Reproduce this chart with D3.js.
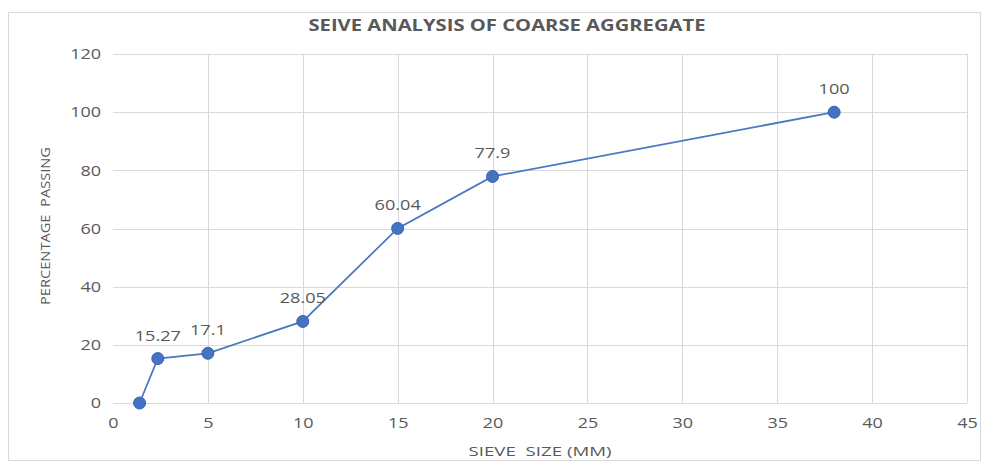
<!DOCTYPE html>
<html><head><meta charset="utf-8">
<script src="https://cdn.jsdelivr.net/npm/d3@7"></script>
<style>
html,body{margin:0;padding:0;background:#fff;}
svg text{font-family:"Open Sans","Liberation Sans",sans-serif;fill:#595959;}
</style></head>
<body><svg id="c" width="989" height="468"></svg>
<script>
const sieveSize = [1.4, 2.36, 5, 10, 15, 20, 38];
const percentPassing = [0, 15.27, 17.1, 28.05, 60.04, 77.9, 100];
const pointLabels = ["", "15.27", "17.1", "28.05", "60.04", "77.9", "100"];
const xTicks = [0, 5, 10, 15, 20, 25, 30, 35, 40, 45];
const yTicks = [0, 20, 40, 60, 80, 100, 120];
const title = "SEIVE ANALYSIS OF COARSE AGGREGATE";
const xTitle = "SIEVE  SIZE (MM)";
const yTitle = "PERCENTAGE  PASSING";

const svg = d3.select("#c");
svg.append("rect").attr("x",8.5).attr("y",12.5).attr("width",972).attr("height",448)
  .attr("fill","#fff").attr("stroke","#d9d9d9");

const x = d3.scaleLinear().domain([0,45]).range([113,967]);
const y = d3.scaleLinear().domain([0,120]).range([403,54]);

function stretch(sel, f){
  sel.each(function(){
    const len = this.getComputedTextLength();
    d3.select(this).attr("textLength", len*f).attr("lengthAdjust","spacingAndGlyphs");
  });
}

// grid
svg.append("g").selectAll("line").data(yTicks).join("line")
  .attr("x1",x(0)).attr("x2",x(45)).attr("y1",d=>Math.round(y(d))+0.5).attr("y2",d=>Math.round(y(d))+0.5)
  .attr("stroke","#d9d9d9").attr("stroke-width",1);
svg.append("g").selectAll("line").data(xTicks.filter(d=>d>0)).join("line")
  .attr("y1",y(0)).attr("y2",y(120)).attr("x1",d=>Math.round(x(d))+0.5).attr("x2",d=>Math.round(x(d))+0.5)
  .attr("stroke","#d9d9d9").attr("stroke-width",1);

// axes
const xAxis = svg.append("g").attr("transform",`translate(0,${y(0)})`)
  .call(d3.axisBottom(x).tickValues(xTicks).tickSize(0).tickPadding(14));
const yAxis = svg.append("g").attr("transform",`translate(${x(0)-12},0)`)
  .call(d3.axisLeft(y).tickValues(yTicks).tickSize(0).tickPadding(0));
[xAxis,yAxis].forEach(a=>{a.select(".domain").remove();
  a.selectAll("text").style("font-size","15px").attr("fill","#595959");});
stretch(xAxis.selectAll("text"),1.2);
stretch(yAxis.selectAll("text"),1.2);

// titles
const t = svg.append("text").attr("x",507).attr("y",31).attr("text-anchor","middle")
  .style("font-size","16.5px").style("font-weight","bold").text(title);
t.attr("textLength",397).attr("lengthAdjust","spacingAndGlyphs");
svg.append("text").attr("x",540).attr("y",456).attr("text-anchor","middle")
  .style("font-size","13.5px").style("white-space","pre").text(xTitle)
  .attr("textLength",143).attr("lengthAdjust","spacingAndGlyphs");
svg.append("text").attr("transform","translate(50,226) rotate(-90)").attr("text-anchor","middle")
  .style("font-size","13.5px").style("white-space","pre").text(yTitle)
  .attr("textLength",158).attr("lengthAdjust","spacingAndGlyphs");

const data = sieveSize.map((s,i)=>({x:s,y:percentPassing[i],label:pointLabels[i]}));
svg.append("path").datum(data)
  .attr("d",d3.line().x(d=>x(d.x)).y(d=>y(d.y)))
  .attr("fill","none").attr("stroke","#4a78c0").attr("stroke-width",1.75);
svg.append("g").selectAll("circle").data(data).join("circle")
  .attr("cx",d=>x(d.x)).attr("cy",d=>y(d.y)).attr("r",6)
  .attr("fill","#4472c4").attr("stroke","#3a64ad").attr("stroke-width",1);

const lbl = svg.append("g").selectAll("text").data(data.filter(d=>d.label)).join("text")
  .attr("x",d=>x(d.x)).attr("y",d=>y(d.y)-18)
  .attr("text-anchor","middle").style("font-size","14.5px").text(d=>d.label);
stretch(lbl,1.25);
</script></body></html>
